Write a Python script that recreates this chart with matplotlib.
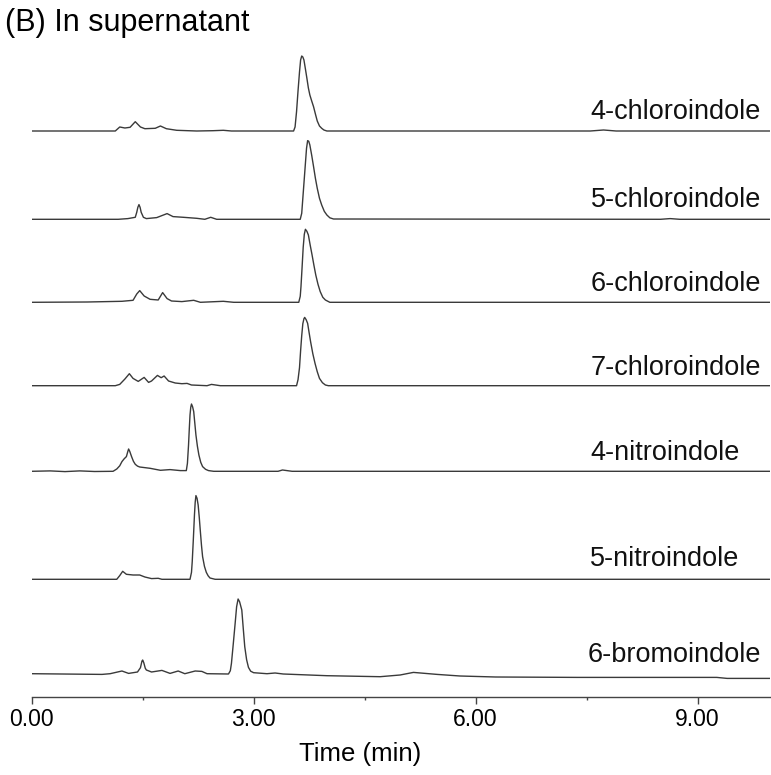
import numpy as np
import matplotlib
matplotlib.use("Agg")
import matplotlib.pyplot as plt
from matplotlib.ticker import FixedLocator, FixedFormatter

plt.rcParams['font.family'] = ['Liberation Sans', 'DejaVu Sans']

# Chromatogram traces: retention time (min) and detector response above baseline
t_4cl = [0, 1.13, 1.19, 1.26, 1.33, 1.40, 1.47, 1.53, 1.67, 1.74, 1.82, 1.96, 2.23, 2.45, 2.59, 2.70,
         3.54, 3.56, 3.58, 3.60, 3.62, 3.635, 3.65, 3.665, 3.68, 3.70, 3.72, 3.74, 3.76, 3.785, 3.81,
         3.835, 3.86, 3.89, 3.92, 3.95, 3.99, 7.55, 7.73, 7.90, 9.98]
h_4cl = [0, 0, 4, 3, 3.7, 9.3, 4, 2.3, 2.7, 5, 2.3, 0.7, 0, 0.3, 0.7, 0,
         0, 4, 19.3, 40, 59, 71, 75, 74, 71, 62, 52.7, 43, 36, 30, 24.3,
         17, 10, 5, 2.7, 1, 0, 0, 1, 0, 0]

t_5cl = [0, 1.17, 1.30, 1.40, 1.42, 1.435, 1.45, 1.465, 1.48, 1.51, 1.55, 1.69, 1.83, 1.91, 2.05, 2.23,
         2.34, 2.42, 2.50, 3.63, 3.65, 3.66, 3.68, 3.70, 3.715, 3.73, 3.745, 3.76, 3.785, 3.81, 3.835,
         3.86, 3.89, 3.92, 3.955, 3.99, 4.03, 4.08, 8.50, 8.63, 8.76, 9.98]
h_5cl = [0, 0, 0.7, 2, 7, 12, 14.7, 12, 7, 2, 0.7, 1.7, 5.7, 2.7, 2, 1,
         0, 2, 0, 0, 6, 16, 36, 56, 71, 78.7, 78, 74.3, 64, 52.7, 41,
         31, 21, 14.3, 8, 4.3, 1.5, 0.3, 0, 0.7, 0, 0]

t_6cl = [0, 0.75, 1.22, 1.37, 1.42, 1.46, 1.52, 1.60, 1.71, 1.77, 1.83, 1.89, 2.03, 2.19, 2.28, 2.59, 2.73,
         3.61, 3.63, 3.64, 3.655, 3.67, 3.685, 3.70, 3.72, 3.74, 3.765, 3.79, 3.815, 3.84, 3.87, 3.90,
         3.935, 3.97, 4.03, 9.98]
h_6cl = [0, 0.3, 1, 2, 8.3, 11.7, 6.3, 3, 2.3, 9.7, 3.7, 1.3, 0.7, 2, 0, 1, 0,
         0, 6, 15.7, 35, 55, 68, 73, 71, 67.3, 57, 47.3, 37, 27.3, 18, 10.7,
         5, 2.3, 0, 0]

t_7cl = [0, 1.13, 1.19, 1.26, 1.32, 1.37, 1.44, 1.52, 1.58, 1.62, 1.70, 1.75, 1.79, 1.85, 1.94, 2.03, 2.10,
         2.16, 2.37, 2.43, 2.55, 3.58, 3.60, 3.62, 3.635, 3.65, 3.665, 3.68, 3.69, 3.71, 3.73, 3.75,
         3.77, 3.80, 3.83, 3.86, 3.89, 3.93, 3.97, 4.01, 9.98]
h_7cl = [0, 0, 1.3, 6.7, 12, 7.3, 4.3, 8.3, 3.3, 4.7, 10.3, 8, 9.7, 4.7, 2.7, 2, 2.3,
         0.7, 0, 1.3, 0, 0, 6, 18, 35, 50, 62, 67, 68.3, 66, 62.3, 53,
         44, 32, 22.3, 14, 7.3, 3, 0.7, 0, 0]

t_4no2 = [0, 0.25, 0.45, 0.65, 0.85, 1.10, 1.15, 1.19, 1.22, 1.25, 1.28, 1.30, 1.31, 1.325, 1.35, 1.375,
          1.40, 1.43, 1.46, 1.60, 1.74, 1.87, 2.01, 2.09, 2.105, 2.12, 2.13, 2.14, 2.15, 2.16, 2.175,
          2.19, 2.205, 2.22, 2.24, 2.26, 2.285, 2.31, 2.35, 2.39, 2.46, 3.33, 3.39, 3.52, 9.98]
h_4no2 = [0, 0.4, -0.3, 0.4, -0.2, 0, 2.3, 5.5, 9.7, 12.5, 14.7, 20, 22.3, 20, 14.7, 10,
          7, 5.2, 4.3, 3, 1, 1.7, 0.7, 0.7, 8, 26.3, 42, 56.3, 64, 67.3, 64.5,
          59.7, 48, 36.3, 25, 16.3, 9, 4.7, 2, 0.7, 0, 0, 1.3, 0, 0]

t_5no2 = [0, 1.15, 1.19, 1.23, 1.28, 1.37, 1.46, 1.53, 1.62, 1.71, 1.76,
          2.14, 2.16, 2.17, 2.185, 2.20, 2.21, 2.22, 2.235, 2.25, 2.265, 2.28, 2.295, 2.31, 2.335,
          2.36, 2.385, 2.41, 2.48, 9.98]
h_5no2 = [0, 0, 3.7, 8, 5, 4.3, 4.3, 2.3, 0.7, 1, 0,
          0, 7, 17.7, 40, 64.3, 77, 83.7, 81, 74.3, 62, 47.7, 34, 22.7, 13,
          7, 3.5, 1.3, 0, 0]

t_6br = [0, 0.95, 1.06, 1.22, 1.31, 1.43, 1.47, 1.49, 1.50, 1.515, 1.535, 1.55, 1.62, 1.76, 1.87, 1.98,
         2.07, 2.21, 2.30, 2.37, 2.66, 2.685, 2.70, 2.725, 2.75, 2.77, 2.79, 2.81, 2.84, 2.86, 2.88,
         2.905, 2.93, 2.96, 3.00, 3.18, 3.29, 3.40, 3.99, 4.71, 4.98, 5.16, 5.48, 5.79, 6.27, 7.37,
         9.26, 9.40, 9.98]
h_6br = [0, -0.7, 0, 2.7, 0.3, 1.7, 6, 12.5, 13.7, 11, 5.5, 3.7, 1.7, 3.3, 0.3, 2.7,
         0, 2.7, 2.3, 0, -0.3, 3, 10.3, 30, 50.3, 67, 74.7, 72, 63.7, 45, 27,
         14, 6.3, 2.5, 1, 0, 0.7, -0.3, -2, -3, -1.3, 1.3, -0.7, -2.3, -3.3, -3.7,
         -3.7, -4.7, -4.7]

names = ['4-chloroindole', '5-chloroindole', '6-chloroindole', '7-chloroindole',
         '4-nitroindole', '5-nitroindole', '6-bromoindole']
times = [t_4cl, t_5cl, t_6cl, t_7cl, t_4no2, t_5no2, t_6br]
signals = [h_4cl, h_5cl, h_6cl, h_7cl, h_4no2, h_5no2, h_6br]
offsets = [566, 477.7, 394.7, 311.3, 225.7, 117.7, 23.3]
label_x = [9.86, 9.86, 9.86, 9.86, 9.565, 9.565, 9.86]
label_dy = [19, 19, 18, 18, 18, 20, 19]

xticks_major = [0, 3, 6, 9]
xticks_minor = [1.5, 4.5, 7.5]
xtick_labels = ['0.00', '3.00', '6.00', '9.00']

fig = plt.figure(figsize=(7.71, 7.75), dpi=100)
ax = fig.add_axes([31.7 / 771, 78 / 775, (770 - 31.7) / 771, 657 / 775])

line_color = '#3a3a3a'
for t, h, off, name, lx, dy in zip(times, signals, offsets, names, label_x, label_dy):
    ax.plot(t, off + np.asarray(h), color=line_color, lw=1.0, solid_joinstyle='round')
    ax.text(lx, off + dy, name, ha='right', va='center', fontsize=19.5, color='#111111')

ax.set_xlim(0, 9.98)
ax.set_ylim(0, 657)

for side in ['left', 'right', 'top']:
    ax.spines[side].set_visible(False)
ax.spines['bottom'].set_color('#444444')
ax.spines['bottom'].set_linewidth(1.0)
ax.set_yticks([])

ax.xaxis.set_major_locator(FixedLocator(xticks_major))
ax.xaxis.set_major_formatter(FixedFormatter(xtick_labels))
ax.xaxis.set_minor_locator(FixedLocator(xticks_minor))
ax.tick_params(axis='x', which='major', direction='out', length=5, width=1.0,
               color='#444444', labelsize=16.5, pad=3)
ax.tick_params(axis='x', which='minor', direction='out', length=2.5, width=1.0, color='#444444')

ax.set_xlabel('Time (min)', fontsize=18.5)
ax.xaxis.set_label_coords(0.4447, -0.068)

fig.text(5 / 771, 1 - 23 / 775, '(B) In supernatant', ha='left', va='center', fontsize=22)

fig.savefig('out.png', dpi=100)
